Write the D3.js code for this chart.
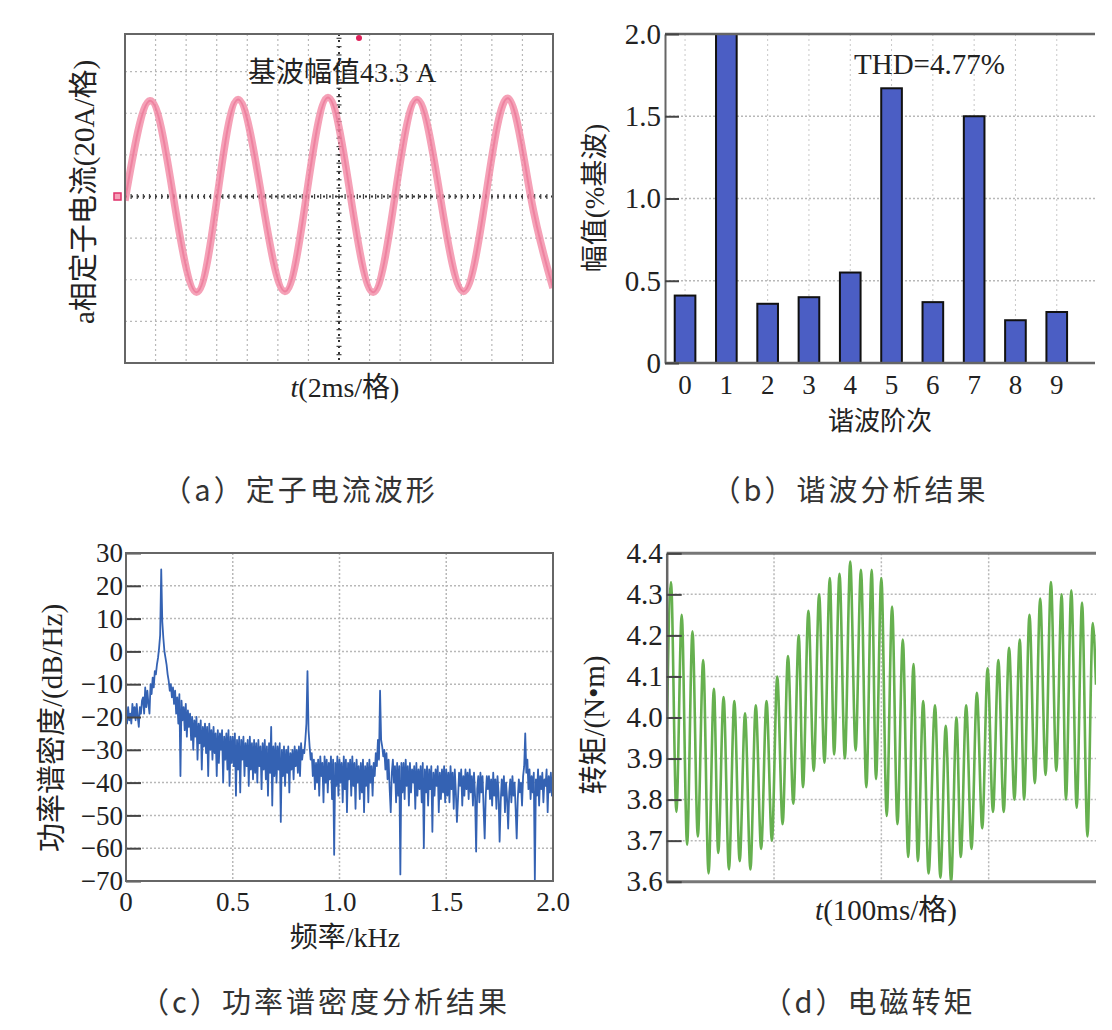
<!DOCTYPE html>
<html><head><meta charset="utf-8">
<script src="https://cdn.jsdelivr.net/npm/d3@7"></script>
<style>
body{margin:0;background:#fff;}
svg text{font-family:"Liberation Serif","Noto Sans CJK SC",serif;fill:#222;}
svg text.cap{font-family:"Noto Sans CJK SC",sans-serif;fill:#333;}
</style></head><body>
<svg id="chart" width="1112" height="1030"></svg>
<script>
// ---------------- DATA ----------------
// (a) stator current, oscilloscope divisions (x: 2 ms/div, y: 20 A/div)
const currentT = [0, 0.82, 1.58, 2.34, 3.02, 3.70, 4.47, 5.23, 5.93, 6.64, 7.38, 8.12, 8.83, 9.55, 10.31, 11.07, 11.80, 12.53, 13.27, 14.0];
const currentV = [-0.1, 2.3, 0, -2.3, 0, 2.33, 0, -2.28, 0, 2.38, 0, -2.3, 0, 2.33, 0, -2.28, 0, 2.36, 0, -2.2];
const currentTitle = "基波幅值43.3 A";

// (b) harmonic analysis
const harmOrders = ["0","1","2","3","4","5","6","7","8","9"];
const harmValues = [0.41, 2.0, 0.36, 0.40, 0.55, 1.67, 0.37, 1.50, 0.26, 0.31];
const harmYTicks = [0, 0.5, 1.0, 1.5, 2.0];
const thdLabel = "THD=4.77%";

// (c) power spectral density, dB/Hz, one value per 0.005 kHz from 0 to 2.0 kHz
const psdStep = 0.005;
const psdDb = [
 -18,-22,-17,-21,-19,-22,-16,-20,-17,-21,-16,-20,-23,-17,-19,-15,-14,-19,-11,-17,
 -12,-16,-19,-10,-13,-8,-11,-6,-7,-4,-2,1,5,25,9,4,0,-2,-4,-7,
 -9,-12,-10,-14,-11,-16,-12,-19,-14,-22,-13,-38,-15,-21,-17,-24,-16,-26,-18,-23,
 -19,-27,-20,-30,-21,-26,-20,-33,-22,-28,-21,-36,-23,-29,-22,-31,-23,-38,-22,-30,
 -24,-33,-23,-31,-25,-38,-24,-34,-25,-30,-24,-40,-26,-33,-25,-36,-24,-41,-26,-34,
 -26,-35,-25,-44,-27,-36,-26,-43,-27,-33,-26,-38,-28,-35,-27,-41,-26,-36,-28,-39,
 -27,-37,-28,-40,-27,-35,-29,-42,-28,-36,-27,-39,-29,-44,-28,-37,-23,-47,-29,-38,
 -28,-40,-29,-36,-28,-52,-30,-38,-29,-41,-30,-37,-29,-43,-31,-36,-30,-39,-29,-35,
 -30,-37,-29,-38,-28,-33,-30,-31,-27,-22,-6,-24,-29,-33,-31,-38,-33,-42,-34,-40,
 -33,-44,-32,-38,-34,-46,-32,-40,-33,-43,-34,-39,-32,-45,-33,-62,-34,-41,-32,-44,
 -33,-40,-34,-46,-32,-42,-33,-49,-34,-39,-33,-44,-32,-41,-34,-48,-33,-40,-35,-45,
 -34,-43,-33,-49,-35,-41,-34,-46,-33,-40,-35,-44,-34,-38,-31,-35,-27,-33,-12,-27,
 -29,-32,-30,-36,-31,-39,-33,-42,-49,-37,-33,-40,-35,-46,-34,-44,-35,-68,-34,-43,
 -34,-45,-33,-41,-35,-47,-34,-43,-36,-40,-35,-48,-34,-44,-36,-42,-35,-46,-34,-60,
 -36,-43,-35,-47,-36,-42,-35,-55,-37,-44,-36,-41,-35,-49,-37,-45,-36,-43,-35,-46,
 -36,-44,-37,-46,-35,-42,-37,-48,-36,-43,-52,-45,-37,-41,-36,-47,-38,-44,-36,-42,
 -37,-45,-36,-43,-38,-47,-37,-44,-61,-42,-38,-46,-37,-43,-38,-48,-57,-44,-38,-42,
 -38,-45,-39,-47,-37,-44,-39,-48,-38,-43,-58,-46,-39,-44,-38,-49,-40,-45,-54,-43,
 -39,-46,-38,-44,-40,-48,-57,-45,-39,-43,-40,-47,-38,-35,-25,-37,-33,-42,-36,-45,
 -38,-43,-37,-70,-39,-44,-36,-47,-38,-42,-37,-46,-39,-41,-36,-49,-38,-43,-37,-44,
 -40
];
const psdXTicks = [0, 0.5, 1.0, 1.5, 2.0];
const psdYTicks = [30, 20, 10, 0, -10, -20, -30, -40, -50, -60, -70];

// (d) electromagnetic torque, extrema (ms, N·m)
const torqueStart = [0, 3.95];
const torqueEnd = [400, 4.08];
const torquePeakT = [4,14,24,34,44,53,63,73,83,93,103,113,123,132,142,152,161,171,181,191,200,210,220,230,239,250,260,270,279,289,299,309,319,329,338,348,358,368,377,387,397];
const torquePeakV = [4.33,4.25,4.21,4.14,4.07,4.05,4.04,4.01,4.03,4.04,4.10,4.15,4.20,4.26,4.30,4.34,4.35,4.38,4.36,4.36,4.34,4.27,4.19,4.13,4.04,4.03,3.98,4.00,4.03,4.06,4.12,4.14,4.17,4.19,4.25,4.29,4.33,4.30,4.31,4.28,4.23];
const torqueTroughT = [9,19,29,39,48,58,68,78,88,98,108,118,127,137,147,156,166,176,186,195,205,215,225,234,244,255,265,274,284,294,304,314,324,333,343,353,363,372,382,392];
const torqueTroughV = [3.77,3.69,3.71,3.62,3.67,3.63,3.65,3.63,3.68,3.70,3.74,3.79,3.83,3.87,3.89,3.91,3.90,3.92,3.83,3.85,3.76,3.74,3.66,3.65,3.62,3.61,3.60,3.66,3.68,3.73,3.77,3.77,3.80,3.80,3.84,3.86,3.87,3.80,3.78,3.71];
const torqueYTicks = [3.6,3.7,3.8,3.9,4.0,4.1,4.2,4.3,4.4];
const torqueXGrid = [100, 200, 300];

const captions = ["（a）定子电流波形","（b）谐波分析结果","（c）功率谱密度分析结果","（d）电磁转矩"];

// ---------------- DRAW ----------------
const svg = d3.select("#chart");
const defs = svg.append("defs");
const gridCol = "#b8b8b8";

function clip(id, x, y, w, h){
  defs.append("clipPath").attr("id", id).append("rect").attr("x",x).attr("y",y).attr("width",w).attr("height",h);
}
function rotLabel(g, x, y, txt, fs){
  return g.append("text").attr("transform",`translate(${x},${y}) rotate(-90)`)
    .attr("text-anchor","middle").attr("dominant-baseline","central")
    .attr("font-size",fs).text(txt);
}

// ===== (a) =====
{
  const g = svg.append("g");
  const x = d3.scaleLinear().domain([0,14]).range([125,553]);
  const y = d3.scaleLinear().domain([-4,4]).range([363,30]);
  const top = 34, bot = 363;
  g.selectAll(".gv").data(d3.range(1,14).filter(d=>d!==7)).join("line")
    .attr("x1",d=>x(d)).attr("x2",d=>x(d)).attr("y1",top).attr("y2",bot)
    .attr("stroke",gridCol).attr("stroke-width",1.2).attr("stroke-dasharray","2,3");
  g.selectAll(".gh").data([-3,-2,-1,1,2,3]).join("line")
    .attr("x1",x(0)).attr("x2",x(14)).attr("y1",d=>y(d)).attr("y2",d=>y(d))
    .attr("stroke",gridCol).attr("stroke-width",1.2).attr("stroke-dasharray","2,3");
  g.append("line").attr("x1",x(0)).attr("x2",x(14)).attr("y1",y(0)).attr("y2",y(0))
    .attr("stroke","#333").attr("stroke-width",2).attr("stroke-dasharray","2,4");
  g.append("line").attr("x1",x(7)).attr("x2",x(7)).attr("y1",top).attr("y2",bot)
    .attr("stroke","#333").attr("stroke-width",2).attr("stroke-dasharray","2,4");
  g.selectAll(".tx").data(d3.range(0,70).map(i=>i/5)).join("line")
    .attr("x1",d=>x(d)).attr("x2",d=>x(d)).attr("y1",y(0)-2.5).attr("y2",y(0)+2.5)
    .attr("stroke","#444").attr("stroke-width",1.2);
  g.selectAll(".ty").data(d3.range(-20,20).map(i=>i/5)).join("line")
    .attr("x1",x(7)-2.5).attr("x2",x(7)+2.5).attr("y1",d=>y(d)).attr("y2",d=>y(d))
    .attr("stroke","#444").attr("stroke-width",1.2);
  clip("clipA",125,34,428,329);
  const line = d3.line().x((d,i)=>x(currentT[i])).y(d=>y(d)).curve(d3.curveNatural);
  g.append("path").attr("d",line(currentV)).attr("clip-path","url(#clipA)")
    .attr("fill","none").attr("stroke","#f28aa5").attr("stroke-width",7.5).attr("stroke-opacity",0.8);
  g.append("path").attr("d",line(currentV)).attr("clip-path","url(#clipA)")
    .attr("fill","none").attr("stroke","#e8638a").attr("stroke-width",2).attr("stroke-opacity",0.5);
  g.append("rect").attr("x",125).attr("y",top).attr("width",428).attr("height",bot-top)
    .attr("fill","none").attr("stroke","#666").attr("stroke-width",2);
  g.append("rect").attr("x",114).attr("y",y(0)-3.5).attr("width",7).attr("height",7)
    .attr("fill","#f5a0b8").attr("stroke","#e0306a").attr("stroke-width",1.5);
  g.append("circle").attr("cx",359).attr("cy",38).attr("r",3).attr("fill","#e0205a");
  g.append("text").attr("x",342).attr("y",82).attr("text-anchor","middle").attr("font-size",28).text(currentTitle);
  rotLabel(g, 84, 192, "a相定子电流(20A/格)", 29);
  const xl = g.append("text").attr("x",345).attr("y",387).attr("text-anchor","middle")
    .attr("dominant-baseline","central").attr("font-size",28);
  xl.append("tspan").attr("font-style","italic").text("t");
  xl.append("tspan").text("(2ms/格)");
}

// ===== (b) =====
{
  const g = svg.append("g");
  const x = d3.scaleBand().domain(harmOrders).range([664.4,1077.4]).paddingInner(0.5).paddingOuter(0.25);
  const y = d3.scaleLinear().domain([0,2]).range([363,34]);
  const x0 = 665, x1 = 1095;
  g.selectAll(".gv").data(harmOrders).join("line")
    .attr("x1",d=>x(d)+x.bandwidth()/2).attr("x2",d=>x(d)+x.bandwidth()/2).attr("y1",y(2)).attr("y2",y(0))
    .attr("stroke","#c8c8c8").attr("stroke-width",1).attr("stroke-dasharray","2,3");
  g.selectAll(".gh").data([0.5,1.0,1.5]).join("line")
    .attr("x1",x0).attr("x2",x1).attr("y1",d=>y(d)).attr("y2",d=>y(d))
    .attr("stroke",gridCol).attr("stroke-width",1.5).attr("stroke-dasharray","2,2");
  g.selectAll(".bar").data(harmValues).join("rect")
    .attr("x",(d,i)=>x(harmOrders[i])).attr("width",x.bandwidth())
    .attr("y",d=>y(d)).attr("height",d=>y(0)-y(d))
    .attr("fill","#4b5ec4").attr("stroke","#111").attr("stroke-width",2);
  g.append("line").attr("x1",x0).attr("x2",x1).attr("y1",y(2)).attr("y2",y(2)).attr("stroke","#666").attr("stroke-width",2.5);
  g.append("line").attr("x1",x0).attr("x2",x1).attr("y1",y(0)).attr("y2",y(0)).attr("stroke","#666").attr("stroke-width",2.5);
  const ya = g.append("g").attr("transform",`translate(${x0},0)`)
    .call(d3.axisLeft(y).tickValues(harmYTicks).tickFormat(d=>d===0?"0":d3.format(".1f")(d)).tickSize(-14).tickSizeOuter(0).tickPadding(4));
  ya.select(".domain").attr("stroke","#666").attr("stroke-width",2);
  ya.selectAll(".tick line").attr("stroke","#444").attr("stroke-width",2);
  ya.selectAll(".tick text").attr("font-size",29).attr("font-family",null).attr("fill","#222");
  g.selectAll(".xl").data(harmOrders).join("text")
    .attr("x",d=>x(d)+x.bandwidth()/2).attr("y",385).attr("text-anchor","middle")
    .attr("dominant-baseline","central").attr("font-size",27).text(d=>d);
  g.append("text").attr("x",854).attr("y",74).attr("font-size",29).text(thdLabel);
  g.append("text").attr("x",880).attr("y",421).attr("text-anchor","middle").attr("dominant-baseline","central").attr("font-size",26).text("谐波阶次");
  rotLabel(g, 595, 198, "幅值(%基波)", 27);
}

// ===== (c) =====
{
  const g = svg.append("g");
  const x = d3.scaleLinear().domain([0,2]).range([126,553]);
  const y = d3.scaleLinear().domain([-70,30]).range([881,553]);
  g.selectAll(".gv").data([0.5,1.0,1.5]).join("line")
    .attr("x1",d=>x(d)).attr("x2",d=>x(d)).attr("y1",y(30)).attr("y2",y(-70))
    .attr("stroke",gridCol).attr("stroke-width",1.5).attr("stroke-dasharray","2,2");
  g.selectAll(".gh").data(psdYTicks.slice(1,-1)).join("line")
    .attr("x1",x(0)).attr("x2",x(2)).attr("y1",d=>y(d)).attr("y2",d=>y(d))
    .attr("stroke",gridCol).attr("stroke-width",1.5).attr("stroke-dasharray","2,2");
  clip("clipC",126,553,427,328);
  const line = d3.line().x((d,i)=>x(i*psdStep)).y(d=>y(d));
  g.append("path").attr("d",line(psdDb)).attr("clip-path","url(#clipC)")
    .attr("fill","none").attr("stroke","#3462b3").attr("stroke-width",1.8).attr("stroke-linejoin","round");
  const ya = g.append("g").attr("transform",`translate(${x(0)},0)`)
    .call(d3.axisLeft(y).tickValues(psdYTicks).tickFormat(d3.format("d")).tickSize(-15).tickSizeOuter(0).tickPadding(3));
  ya.select(".domain").remove();
  ya.selectAll(".tick line").attr("stroke","#444").attr("stroke-width",2);
  ya.selectAll(".tick text").attr("font-size",27).attr("font-family",null).attr("fill","#222");
  g.selectAll(".xl").data(psdXTicks).join("text")
    .attr("x",d=>x(d)).attr("y",902).attr("text-anchor","middle").attr("dominant-baseline","central")
    .attr("font-size",27).text(d=>d===0?"0":d3.format(".1f")(d));
  g.append("rect").attr("x",x(0)).attr("y",y(30)).attr("width",x(2)-x(0)).attr("height",y(-70)-y(30))
    .attr("fill","none").attr("stroke","#666").attr("stroke-width",2);
  g.append("text").attr("x",345).attr("y",937).attr("text-anchor","middle").attr("dominant-baseline","central").attr("font-size",28).text("频率/kHz");
  rotLabel(g, 52, 728, "功率谱密度/(dB/Hz)", 29);
}

// ===== (d) =====
{
  const g = svg.append("g");
  const x = d3.scaleLinear().domain([0,400]).range([666.7,1096]);
  const y = d3.scaleLinear().domain([3.6,4.4]).range([881.7,553.3]);
  g.selectAll(".gv").data(torqueXGrid).join("line")
    .attr("x1",d=>x(d)).attr("x2",d=>x(d)).attr("y1",y(4.4)).attr("y2",y(3.6))
    .attr("stroke",gridCol).attr("stroke-width",1.5).attr("stroke-dasharray","2,2");
  g.selectAll(".gh").data(torqueYTicks.slice(1,-1)).join("line")
    .attr("x1",x(0)).attr("x2",x(400)).attr("y1",d=>y(d)).attr("y2",d=>y(d))
    .attr("stroke",gridCol).attr("stroke-width",1.5).attr("stroke-dasharray","2,2");
  const pts = [torqueStart]
    .concat(torquePeakT.map((t,i)=>[t,torquePeakV[i]]))
    .concat(torqueTroughT.map((t,i)=>[t,torqueTroughV[i]]))
    .concat([torqueEnd]).sort((a,b)=>a[0]-b[0]);
  clip("clipD",666.7,553.3,429.3,328.4);
  const line = d3.line().x(d=>x(d[0])).y(d=>y(d[1])).curve(d3.curveMonotoneX);
  g.append("path").attr("d",line(pts)).attr("clip-path","url(#clipD)")
    .attr("fill","none").attr("stroke","#66b04f").attr("stroke-width",2.6);
  g.append("line").attr("x1",x(0)).attr("x2",x(400)).attr("y1",y(4.4)).attr("y2",y(4.4)).attr("stroke","#777").attr("stroke-width",3);
  g.append("line").attr("x1",x(0)).attr("x2",x(400)).attr("y1",y(3.6)).attr("y2",y(3.6)).attr("stroke","#777").attr("stroke-width",3);
  const ya = g.append("g").attr("transform",`translate(${x(0)},0)`)
    .call(d3.axisLeft(y).tickValues(torqueYTicks).tickFormat(d3.format(".1f")).tickSize(-15).tickSizeOuter(0).tickPadding(4));
  ya.select(".domain").attr("stroke","#666").attr("stroke-width",2.5);
  ya.selectAll(".tick line").attr("stroke","#444").attr("stroke-width",2);
  ya.selectAll(".tick text").attr("font-size",29).attr("font-family",null).attr("fill","#222");
  const xl = g.append("text").attr("x",886).attr("y",910).attr("text-anchor","middle")
    .attr("dominant-baseline","central").attr("font-size",29);
  xl.append("tspan").attr("font-style","italic").text("t");
  xl.append("tspan").text("(100ms/格)");
  rotLabel(g, 594, 725, "转矩/(N•m)", 29);
}

// ===== captions =====
const capPos = [[300,488],[850,488],[325,1000],[869,1000]];
svg.selectAll(".cap").data(captions).join("text").attr("class","cap")
  .attr("x",(d,i)=>capPos[i][0]).attr("y",(d,i)=>capPos[i][1])
  .attr("text-anchor","middle").attr("dominant-baseline","central")
  .attr("font-size",29).attr("letter-spacing",3).text(d=>d);
</script>
</body></html>
